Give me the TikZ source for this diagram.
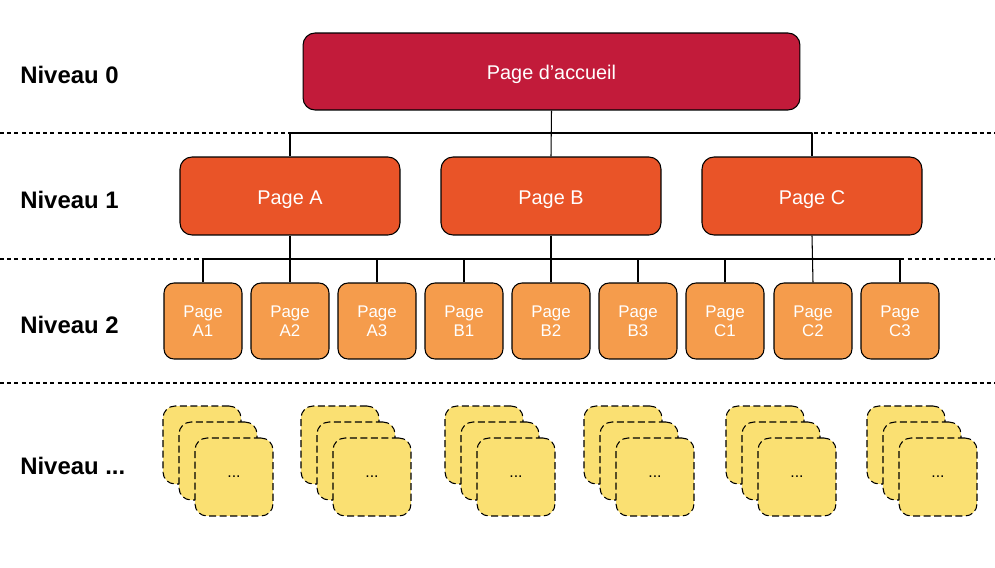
\documentclass[tikz,border=0pt]{standalone}
\usepackage{fontspec}
\setmainfont{Liberation Sans}

\definecolor{homered}{HTML}{C21B3A}
\definecolor{levelone}{HTML}{E95428}
\definecolor{leveltwo}{HTML}{F59C4C}
\definecolor{levelmore}{HTML}{FAE072}

\tikzset{
	pagebox/.style={draw, line width=0.6pt, text=white, inner sep=0pt},
	homepage/.style={pagebox, fill=homered, rounded corners=0.24cm, minimum width=9.94cm, minimum height=1.54cm, text height=9.6pt, text depth=0pt, font=\fontsize{11.3}{13.5}\selectfont},
	sectionpage/.style={pagebox, fill=levelone, rounded corners=0.24cm, minimum width=4.4cm, minimum height=1.56cm, text height=9.6pt, text depth=0pt, font=\fontsize{11.3}{13.5}\selectfont},
	subpage/.style={pagebox, fill=leveltwo, rounded corners=0.2cm, minimum width=1.56cm, minimum height=1.52cm, align=center, font=\fontsize{9.6}{11}\selectfont},
	deeppage/.style={draw, line width=0.6pt, dash pattern=on 4pt off 2pt, fill=levelmore, rounded corners=0.24cm, minimum width=1.56cm, minimum height=1.56cm, inner sep=0pt, font=\fontsize{9}{11}\selectfont},
	levellabel/.style={anchor=west, inner sep=0pt, font=\bfseries\fontsize{13.6}{16}\selectfont},
	separator/.style={line width=0.6pt, dash pattern=on 2.3pt off 1.8pt},
	link/.style={line width=0.6pt}
}

\begin{document}
\begin{tikzpicture}[x=0.02cm, y=-0.02cm, line cap=butt, line join=round]
	\useasboundingbox (0,0) rectangle (995,568);
	% separators
	\draw [separator] (0,133) -- (995,133);
	\draw [separator] (0,259) -- (995,259);
	\draw [separator] (0,383) -- (995,383);
	\coordinate (bus0) at (0,133);
	\coordinate (bus1) at (0,259);
	% level labels
	\node [levellabel] (lvl0) at (20,75) {Niveau 0};
	\node [levellabel] (lvl1) at (20,200) {Niveau 1};
	\node [levellabel] (lvl2) at (20,325) {Niveau 2};
	\node [levellabel] (lvl3) at (20,466) {Niveau ...};
	% level 0
	\node [homepage] (home) at (551.5,71.5) {Page d’accueil};
	% level 1
	\node [sectionpage] (pA) at (290,196) {Page A};
	\node [sectionpage] (pB) at (551,196) {Page B};
	\node [sectionpage] (pC) at (812,196) {Page C};
	% level 2
	\node [subpage] (pA1) at (203,321) {Page\\A1};
	\node [subpage] (pA2) at (290,321) {Page\\A2};
	\node [subpage] (pA3) at (377,321) {Page\\A3};
	\node [subpage] (pB1) at (464,321) {Page\\B1};
	\node [subpage] (pB2) at (551,321) {Page\\B2};
	\node [subpage] (pB3) at (638,321) {Page\\B3};
	\node [subpage] (pC1) at (725,321) {Page\\C1};
	\node [subpage] (pC2) at (813,321) {Page\\C2};
	\node [subpage] (pC3) at (900,321) {Page\\C3};
	% links level 0 -> 1
	\draw [link] (home.south) -- (pB.north);
	\draw [link] (pA.north) -- (pA.north |- bus0) -- (pC.north |- bus0) -- (pC.north);
	% links level 1 -> 2
	\draw [link] (pA1.north) -- (pA1.north |- bus1) -- (pC3.north |- bus1) -- (pC3.north);
	\draw [link] (pA.south) -- (pA2.north);
	\draw [link] (pB.south) -- (pB2.north);
	\draw [link] (pC.south) -- (pC2.north);
	\draw [link] (pA3.north) -- (pA3.north |- bus1);
	\draw [link] (pB1.north) -- (pB1.north |- bus1);
	\draw [link] (pB3.north) -- (pB3.north |- bus1);
	\draw [link] (pC1.north) -- (pC1.north |- bus1);
	% deeper levels
	\foreach \x [count=\i] in {163,301,445,584,726,867} {
		\node [deeppage] (d\i a) at (\x+39,445) {};
		\node [deeppage] (d\i b) at (\x+55,461) {};
		\node [deeppage] (d\i c) at (\x+71,477) {...};
	}
\end{tikzpicture}
\end{document}
